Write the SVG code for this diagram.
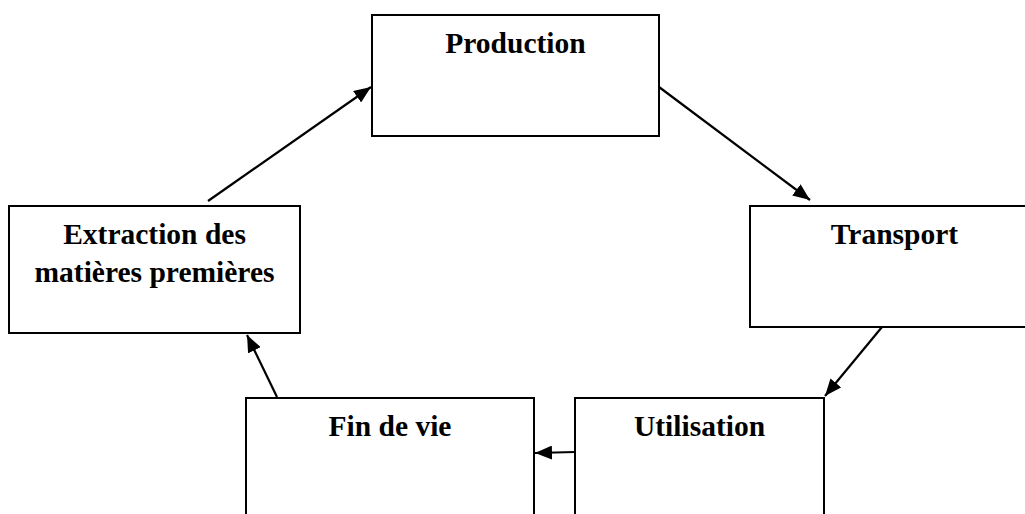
<svg xmlns="http://www.w3.org/2000/svg" width="1025" height="514" viewBox="0 0 1025 514">
<defs>
<style>
.box{fill:#fff;stroke:#000;stroke-width:2}
.lbl{font-family:"Liberation Serif","Times New Roman",serif;font-weight:bold;font-size:29.5px;fill:#000;text-anchor:middle}
.edge{stroke:#000;stroke-width:2.2;fill:none;marker-end:url(#ah)}
</style>
<marker id="ah" markerWidth="18" markerHeight="14" refX="17" refY="7" orient="auto" markerUnits="userSpaceOnUse">
<path d="M0,0 L17,7 L0,14 Z" fill="#000"/>
</marker>
</defs>
<rect width="1025" height="514" fill="#fff"/>
<g id="production">
<rect class="box" x="372" y="15" width="287" height="121"/>
<text class="lbl" x="515.5" y="53">Production</text>
</g>
<g id="extraction">
<rect class="box" x="9" y="206" width="291" height="127"/>
<text class="lbl" x="154.5" y="244">Extraction des</text>
<text class="lbl" x="154.5" y="282">matières premières</text>
</g>
<g id="transport">
<rect class="box" x="750" y="206" width="290" height="121"/>
<text class="lbl" x="894.5" y="244">Transport</text>
</g>
<g id="fin-de-vie">
<rect class="box" x="246" y="398" width="288" height="130"/>
<text class="lbl" x="390" y="436">Fin de vie</text>
</g>
<g id="utilisation">
<rect class="box" x="575" y="398" width="249" height="130"/>
<text class="lbl" x="699.5" y="436">Utilisation</text>
</g>
<g id="connectors">
<line class="edge" x1="208" y1="201" x2="371" y2="87"/>
<line class="edge" x1="659" y1="87" x2="810" y2="200"/>
<line class="edge" x1="882" y1="327" x2="825" y2="396"/>
<line class="edge" x1="575" y1="452" x2="535" y2="453"/>
<line class="edge" x1="277" y1="397" x2="247" y2="335"/>
</g>
</svg>
